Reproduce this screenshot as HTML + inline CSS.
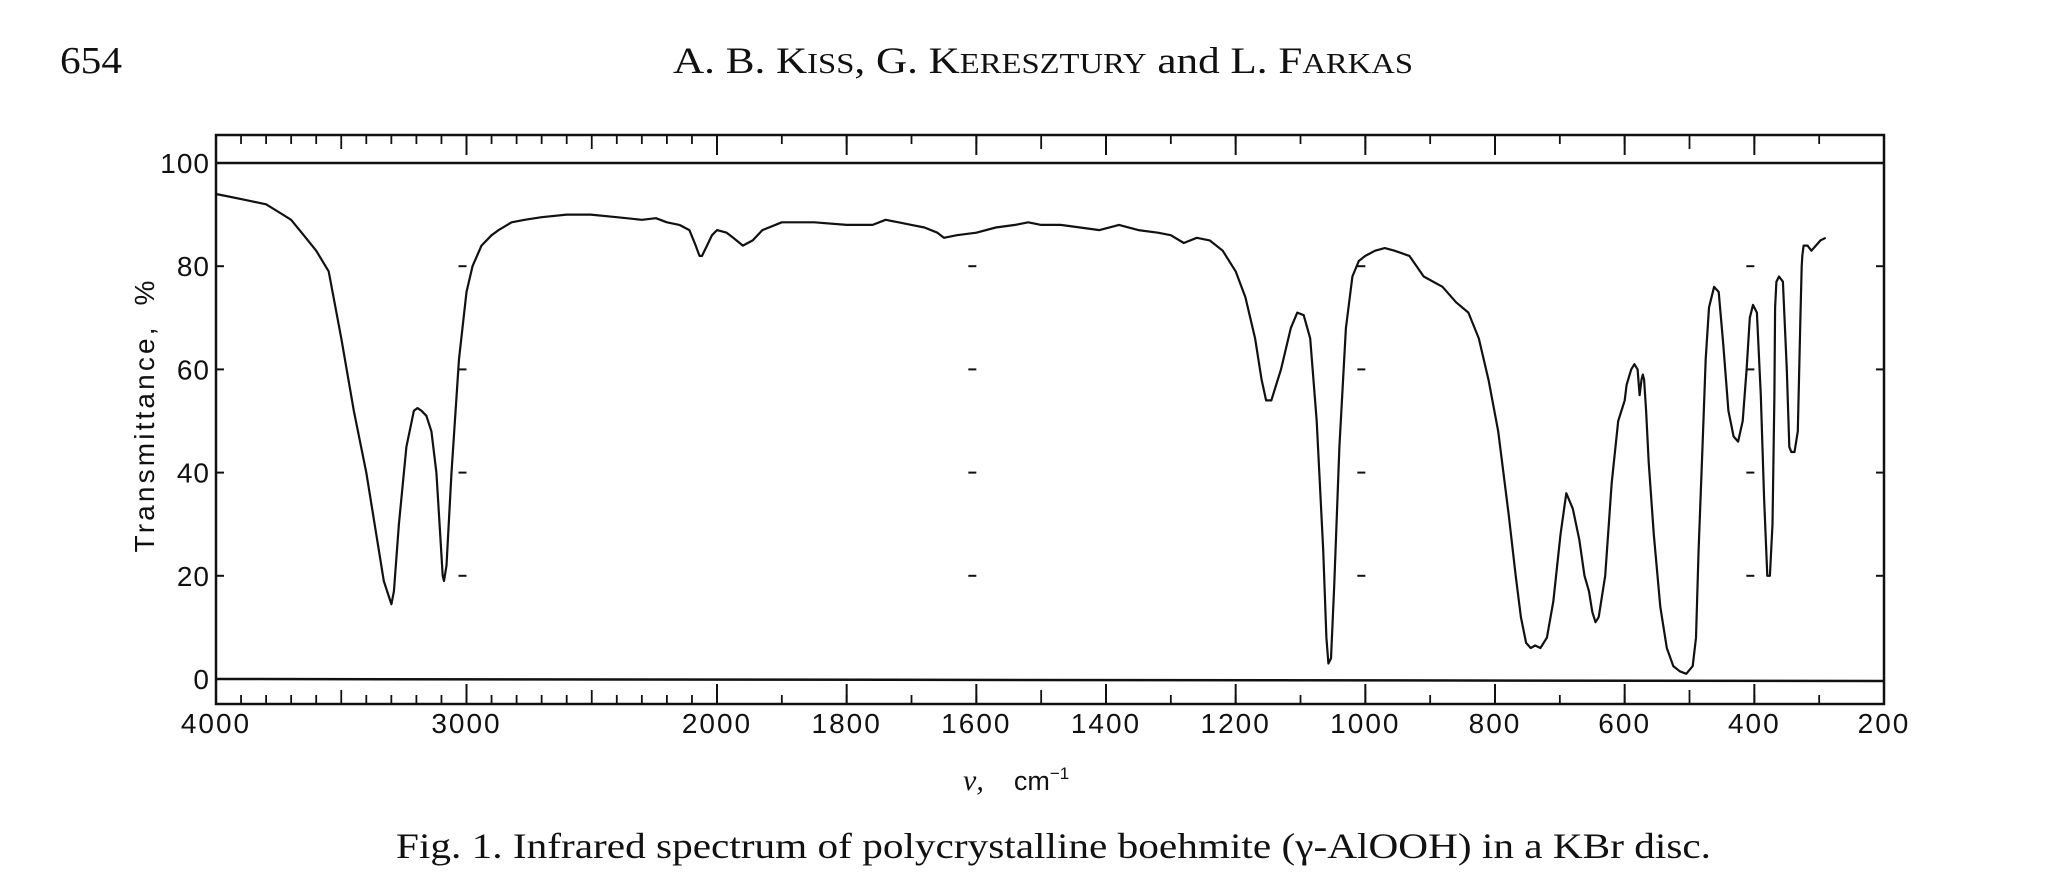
<!DOCTYPE html>
<html><head><meta charset="utf-8"><style>
html,body{margin:0;padding:0;background:#fff;}
svg{display:block;}
text{fill:#111;}
</style></head><body>
<svg id="chart" width="2046" height="896" viewBox="0 0 2046 896" xmlns="http://www.w3.org/2000/svg">
<text x="60" y="73" font-family="Liberation Serif, serif" font-size="38" textLength="62" lengthAdjust="spacingAndGlyphs">654</text>
<text x="673" y="73" font-family="Liberation Serif, serif" font-size="37" textLength="740" lengthAdjust="spacingAndGlyphs">A. B. K<tspan font-size="28">ISS</tspan>, G. K<tspan font-size="28">ERESZTURY</tspan> and L. F<tspan font-size="28">ARKAS</tspan></text>
<text x="396" y="858" font-family="Liberation Serif, serif" font-size="36" textLength="1315" lengthAdjust="spacingAndGlyphs">Fig. 1.  Infrared spectrum of polycrystalline boehmite (γ-AlOOH) in a KBr disc.</text>
<g id="axes"></g>
<g id="ticks"></g>
<path id="curve" fill="none" stroke="#111" stroke-width="2.2" stroke-linejoin="round"/>
<text transform="translate(154,440) rotate(-90)" text-anchor="middle" font-family="Liberation Sans, sans-serif" font-size="28" textLength="225" lengthAdjust="spacing">Transmittance,</text>
<text transform="translate(154,293) rotate(-90)" text-anchor="middle" font-family="Liberation Sans, sans-serif" font-size="28">%</text>
<text x="963" y="790" font-family="Liberation Sans, sans-serif" font-size="27"><tspan font-family="Liberation Serif, serif" font-style="italic" font-size="30">ν,</tspan><tspan dx="30">cm</tspan><tspan font-size="17" dy="-11">−1</tspan></text>
</svg>
<script>
const xTicks=[4000,3000,2000,1800,1600,1400,1200,1000,800,600,400,200];
const yTicks=[0,20,40,60,80,100];
const wavenumbers=[4000,3950,3900,3850,3800,3750,3700,3650,3600,3550,3500,3450,3400,3360,3330,3310,3300,3290,3270,3240,3210,3196,3180,3160,3140,3120,3105,3095,3090,3080,3060,3030,3000,2976,2940,2900,2872,2820,2768,2700,2600,2504,2400,2300,2244,2200,2150,2110,2085,2070,2060,2040,2020,2000,1985,1975,1960,1945,1930,1900,1850,1800,1760,1740,1720,1700,1680,1660,1650,1630,1600,1570,1540,1520,1500,1470,1440,1410,1380,1350,1320,1300,1280,1260,1240,1220,1200,1185,1170,1160,1153,1145,1130,1115,1105,1095,1085,1075,1065,1060,1057,1053,1048,1040,1030,1020,1010,1000,985,970,955,932,910,881,860,841,825,810,795,779,768,760,752,745,738,730,720,710,699,690,680,670,662,655,650,645,640,630,620,610,600,597,590,585,580,577,574,572,570,567,563,555,545,535,525,515,505,495,490,486,480,475,470,462,455,448,440,432,425,418,412,407,402,396,390,385,380,376,372,369,368,366,362,356,350,346,343,338,333,329,327,326,324,321,318,312,305,298,290,280,270,263,257];
const transmittance=[94,93.5,93,92.5,92,90.5,89,86,83,79,66,52,40,28,19,16,14.5,17,30,45,52,52.5,52,51,48,40,28,20,19,22,40,62,75,80,84,86,87,88.5,89,89.5,90,90,89.5,89,89.3,88.5,88,87,84,82,82,84,86,87,86.5,85.5,84,85,87,88.5,88.5,88,88,89,88.5,88,87.5,86.5,85.5,86,86.5,87.5,88,88.5,88,88,87.5,87,88,87,86.5,86,84.5,85.5,85,83,79,74,66,58,54,54,60,68,71,70.5,66,50,25,8,3,4,18,45,68,78,81,82,83,83.5,83,82,78,76,73,71,66,58,48,32,20,12,7,6,6.5,6,8,15,28,36,33,27,20,17,13,11,12,20,38,50,54,57,60,61,60,55,58,59,58,52,42,28,14,6,2.5,1.5,1,2.5,8,25,45,62,72,76,75,65,52,47,46,50,60,70,72.5,71,55,35,20,20,30,55,72,77,78,77,60,45,44,44,48,70,80,82,84,84,84,83,84,85,85.5];
const X0=216,X2000=717,X200=1884,Y0=679,Y100=163,TOP=135,BOT=704;
function xs(w){return w>=2000? X0+(4000-w)*(X2000-X0)/2000 : X2000+(2000-w)*(X200-X2000)/1800;}
function ys(t){return Y0-(t/100)*(Y0-Y100);}
const NS='http://www.w3.org/2000/svg';
const axes=document.getElementById('axes'), tk=document.getElementById('ticks');
function mk(tag,attrs,parent){const e=document.createElementNS(NS,tag);for(const k in attrs)e.setAttribute(k,attrs[k]);parent.appendChild(e);return e;}
const frame=mk('rect',{x:X0,y:TOP,width:X200-X0,height:BOT-TOP,fill:'none',stroke:'#111','stroke-width':2.5},axes);


const l100=mk('line',{x1:X0,x2:X200,y1:ys(100),y2:ys(100),stroke:'#111','stroke-width':2.5},axes);


const l0=mk('line',{x1:X0,x2:X200,y1:ys(0),y2:ys(0)+2,stroke:'#111','stroke-width':2.5},axes);


const minor=[];
for(let w=3900;w>2000;w-=100)minor.push(w);
for(let w=1900;w>200;w-=100)minor.push(w);
minor.forEach(w=>{const x=xs(w);
 const a=mk('line',{x1:x,x2:x,y1:TOP,y2:TOP+(w%500===0?14:9),stroke:'#111','stroke-width':1.8},tk);
 
 
 const b=mk('line',{x1:x,x2:x,y1:BOT,y2:BOT-(w%500===0?14:9),stroke:'#111','stroke-width':1.8},tk);
 
 });
xTicks.forEach(w=>{const x=xs(w);
 const a=mk('line',{x1:x,x2:x,y1:TOP,y2:TOP+20,stroke:'#111','stroke-width':2},tk);
 
 
 const b=mk('line',{x1:x,x2:x,y1:BOT,y2:BOT-20,stroke:'#111','stroke-width':2},tk);
 
 
 const t=mk('text',{x:x,y:733,'text-anchor':'middle','font-family':'Liberation Sans, sans-serif','font-size':28,'letter-spacing':2},tk);
 t.textContent=w;
 
 });
yTicks.forEach(v=>{const y=ys(v);
 const t=mk('text',{x:210,y:y+10,'text-anchor':'end','font-family':'Liberation Sans, sans-serif','font-size':28,'letter-spacing':1},tk);
 t.textContent=v;
 
 
 if(v>0&&v<100){[3000,1600,1000,400].forEach(w=>{const x=xs(w)-8;
  const d=mk('line',{x1:x,x2:x+8,y1:y,y2:y,stroke:'#111','stroke-width':2},tk);
  
  });
  const r=mk('line',{x1:X200,x2:X200-8,y1:y,y2:y,stroke:'#111','stroke-width':2},tk);
  
  
  const l=mk('line',{x1:X0,x2:X0+8,y1:y,y2:y,stroke:'#111','stroke-width':2},tk);
  
  }});
let d='';
wavenumbers.forEach((w,i)=>{d+=(i?'L':'M')+xs(w).toFixed(1)+','+ys(transmittance[i]).toFixed(1);});
document.getElementById('curve').setAttribute('d',d);
</script>
</body></html>
